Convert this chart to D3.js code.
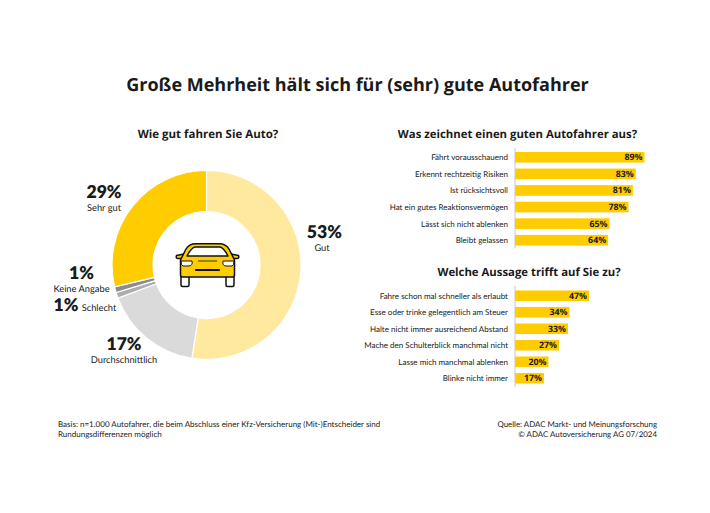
<!DOCTYPE html>
<html><head><meta charset="utf-8">
<script src="https://cdn.jsdelivr.net/npm/d3@7/dist/d3.min.js"></script>
<style>
html,body{margin:0;padding:0;background:#fff}
svg{display:block}
text{font-family:"Open Sans",sans-serif;fill:#1a1a1a;text-rendering:geometricPrecision}
text.small{font-family:Lato,sans-serif}
</style></head><body>
<svg id="c" width="710" height="513"></svg>
<script>
const title = "Große Mehrheit hält sich für (sehr) gute Autofahrer";
const donutTitle = "Wie gut fahren Sie Auto?";
const donutCats = ["Gut","Durchschnittlich","Schlecht","Keine Angabe","Sehr gut"];
const donutVals = [53,17,1,1,29];
const donutCols = ["#FEE99F","#DADADA","#ADADAD","#8C8C8C","#FFCC00"];
const bars1Title = "Was zeichnet einen guten Autofahrer aus?";
const bars1Cats = ["Fährt vorausschauend","Erkennt rechtzeitig Risiken","Ist rücksichtsvoll","Hat ein gutes Reaktionsvermögen","Lässt sich nicht ablenken","Bleibt gelassen"];
const bars1Vals = [89,83,81,78,65,64];
const bars2Title = "Welche Aussage trifft auf Sie zu?";
const bars2Cats = ["Fahre schon mal schneller als erlaubt","Esse oder trinke gelegentlich am Steuer","Halte nicht immer ausreichend Abstand","Mache den Schulterblick manchmal nicht","Lasse mich manchmal ablenken","Blinke nicht immer"];
const bars2Vals = [47,34,33,27,20,17];
const footLeft = ["Basis: n=1.000 Autofahrer, die beim Abschluss einer Kfz-Versicherung (Mit-)Entscheider sind","Rundungsdifferenzen möglich"];
const footRight = ["Quelle: ADAC Markt- und Meinungsforschung","© ADAC Autoversicherung AG 07/2024"];

const svg = d3.select("#c");
const head=(t,x,y,s)=>svg.append("text").attr("x",x).attr("y",y).attr("text-anchor","middle")
  .attr("font-size",s).attr("font-weight",700).text(t);
head(title,357.5,91,18);
head(donutTitle,208,137.5,11.5);
head(bars1Title,517.5,137.5,11.35);
head(bars2Title,529,276,11.35);

// donut
const cx=206.5, cy=265;
const pie=d3.pie().sort(null).value(d=>d);
const arc=d3.arc().innerRadius(53.5).outerRadius(94.5);
const g=svg.append("g").attr("transform",`translate(${cx},${cy})`);
g.selectAll("path").data(pie(donutVals)).join("path")
  .attr("d",arc).attr("fill",(d,i)=>donutCols[i]).attr("stroke","#fff").attr("stroke-width",1.2);

const pct=(i,x,y)=>svg.append("text").attr("x",x).attr("y",y).attr("text-anchor","middle")
  .style("font-family","Lato, sans-serif").attr("font-size",17.6).attr("font-weight",800).text(donutVals[i]+"%");
const lab=(i,x,y,a="middle")=>svg.append("text").attr("class","small").attr("x",x).attr("y",y).attr("text-anchor",a)
  .attr("font-size",9.3).attr("fill","#333").text(donutCats[i]);
pct(4,104,197.7); lab(4,104,210.7);
pct(0,324.3,238.3); lab(0,322,251);
pct(3,81.5,279); lab(3,81.5,291.5);
pct(2,66,311); lab(2,81.7,311,"start");
pct(1,124,350); lab(1,124,362.5);

// car icon
const car=svg.append("g").attr("transform","translate(176,243)")
  .attr("stroke","#111").attr("stroke-width",1.5).attr("stroke-linejoin","round");
car.append("rect").attr("x",5).attr("y",29).attr("width",8).attr("height",14.5).attr("rx",1.5).attr("fill","#fff");
car.append("rect").attr("x",50).attr("y",29).attr("width",8).attr("height",14.5).attr("rx",1.5).attr("fill","#fff");
car.append("path").attr("fill","#FFCC00").attr("d","M6,15.5 L2,15.5 Q-0.5,15.5 0.5,12.5 L8,11 Z M57,15.5 L61,15.5 Q63.5,15.5 62.5,12.500 L55,11 Z");
car.append("path").attr("fill","#FFCC00").attr("d","M4.500,17 L10,6 Q13,0.800 20,0.800 L43,0.800 Q50,0.800 53,6 L58.500,17 L58.500,32 Q58.500,34 56.500,34 L6.500,34 Q4.500,34 4.500,32 Z");
car.append("path").attr("fill","#fff").attr("d","M11,13 Q15,5 19,4 L44,4 Q48,5 52,13 Z");
car.append("path").attr("fill","#fff").attr("stroke-width",1).attr("d","M5,18 L16,18 Q17,22.500 13,23 L7,23 Q5,22.500 5,18 Z M58,18 L47,18 Q46,22.500 50,23 L56,23 Q58,22.500 58,18 Z");
car.append("line").attr("x1",22).attr("x2",41).attr("y1",18).attr("y2",18).attr("stroke-width",0.8);
car.append("line").attr("x1",20).attr("x2",43).attr("y1",27).attr("y2",27).attr("stroke-width",2.2).attr("stroke-linecap","round");

// bars
function bars(cats,vals,x,x0,yTop,yBot,axTop,axBot){
  const y=d3.scaleBand().domain(cats).range([yTop,yBot]).paddingInner(0.36).paddingOuter(0.18);
  const G=svg.append("g");
  G.selectAll("rect").data(vals).join("rect")
    .attr("x",x0).attr("y",(d,i)=>y(cats[i])).attr("width",d=>x(d)-x0).attr("height",y.bandwidth()).attr("fill","#FFCC00");
  G.append("line").attr("x1",x0).attr("x2",x0).attr("y1",axTop).attr("y2",axBot).attr("stroke","#c8c8c8").attr("stroke-width",1);
  G.selectAll("text.c").data(cats).join("text").attr("class","c small")
    .attr("x",x0-7).attr("y",d=>y(d)+y.bandwidth()/2+3).attr("text-anchor","end").attr("font-size",8.02).attr("fill","#333").text(d=>d);
  G.selectAll("text.v").data(vals).join("text").attr("class","v")
    .attr("x",d=>x(d)-2).attr("y",(d,i)=>y(cats[i])+y.bandwidth()/2+3).attr("text-anchor","end").attr("font-size",8.8).attr("font-weight",700).text(d=>d+"%");
}
const x1=d3.scaleLinear().domain([0,100]).range([515,660.5]);
const x2=d3.scaleLinear().domain([0,100]).range([518.5,668.5]);
bars(bars1Cats,bars1Vals,x1,515,149,248.500,148,248);
bars(bars2Cats,bars2Vals,x2,515,287.500,386.500,286,387);

// footers
svg.append("g").selectAll("text").data(footLeft).join("text").attr("class","small").attr("x",58).attr("y",(d,i)=>426.7+i*10.7)
  .attr("font-size",8).attr("fill","#333").text(d=>d);
svg.append("g").selectAll("text").data(footRight).join("text").attr("class","small").attr("x",657).attr("y",(d,i)=>426.7+i*10.7)
  .attr("text-anchor","end").attr("font-size",7.9).attr("fill","#333").text(d=>d);
</script></body></html>
